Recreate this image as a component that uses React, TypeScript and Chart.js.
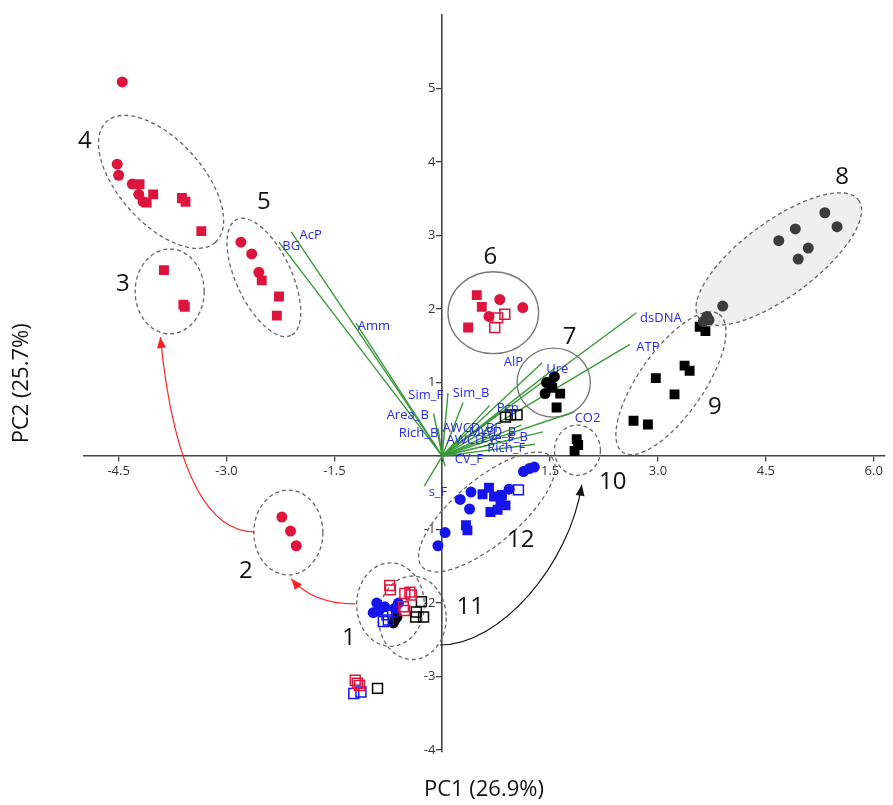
import React, { useEffect, useRef } from 'react';
import { Chart, registerables } from 'chart.js';

Chart.register(...registerables);

// ---------- axis ticks ----------
const X_TICKS = [-4.5, -3.0, -1.5, 0, 1.5, 3.0, 4.5, 6.0];
const Y_TICKS = [-4, -3, -2, -1, 0, 1, 2, 3, 4, 5];
const X_TITLE = 'PC1 (26.9%)';
const Y_TITLE = 'PC2 (25.7%)';

// ---------- sample scores (PC1, PC2) ----------
const redCircles: [number, number][] = [
  [-4.45, 5.09], [-4.52, 3.97], [-4.50, 3.82], [-4.31, 3.70], [-4.22, 3.56], [-4.16, 3.46],
  [-2.80, 2.91], [-2.65, 2.75], [-2.55, 2.50],
  [0.80, 2.13], [1.12, 2.02], [0.65, 1.90],
  [-2.23, -0.83], [-2.11, -1.02], [-2.03, -1.22],
];
const redSquares: [number, number][] = [
  [-4.21, 3.70], [-4.02, 3.56], [-4.11, 3.45], [-3.62, 3.51], [-3.57, 3.46], [-3.35, 3.06],
  [-3.87, 2.53], [-3.60, 2.06], [-3.58, 2.03],
  [-2.51, 2.39], [-2.27, 2.17], [-2.30, 1.91],
  [0.48, 2.19], [0.55, 2.03], [0.36, 1.75],
];
const redOpenSquares: [number, number][] = [
  [0.87, 1.93], [0.77, 1.88], [0.73, 1.75],
  [-0.73, -1.76], [-0.72, -1.82], [-0.52, -1.87], [-0.45, -1.85], [-0.43, -1.89], [-0.54, -2.05], [-0.52, -2.10],
  [-1.21, -3.05], [-1.18, -3.09], [-1.15, -3.12],
];
const blueCircles: [number, number][] = [
  [1.13, -0.21], [1.21, -0.17], [1.28, -0.15], [0.93, -0.45], [0.40, -0.49], [0.25, -0.59], [0.38, -0.72], [0.04, -1.04], [-0.06, -1.22],
  [-0.91, -2.00], [-0.96, -2.13], [-0.88, -2.10], [-0.80, -2.05], [-0.61, -2.00], [-0.66, -2.07],
];
const blueSquares: [number, number][] = [
  [0.65, -0.43], [0.56, -0.52], [0.72, -0.55], [0.83, -0.53], [0.81, -0.64], [0.88, -0.67], [0.67, -0.76], [0.77, -0.73], [0.33, -0.94], [0.35, -1.01],
];
const blueOpenSquares: [number, number][] = [
  [1.06, -0.46],
  [-0.77, -2.16], [-0.82, -2.25], [-0.75, -2.23], [-0.69, -2.12],
  [-1.23, -3.23], [-1.13, -3.21],
];
const blackCircles: [number, number][] = [
  [1.56, 1.08], [1.45, 1.00], [1.43, 0.85], [1.51, 0.97],
  [-0.66, -2.23], [-0.68, -2.27], [-0.63, -2.19],
];
const blackSquares: [number, number][] = [
  [1.64, 0.85], [1.59, 0.66], [1.53, 0.93],
  [1.87, 0.23], [1.89, 0.15], [1.84, 0.07],
  [2.97, 1.06], [3.37, 1.23], [3.44, 1.16], [3.23, 0.84], [2.66, 0.48], [2.86, 0.43], [3.58, 1.76], [3.66, 1.70],
];
const blackOpenSquares: [number, number][] = [
  [0.88, 0.53], [0.95, 0.56], [1.04, 0.56],
  [-0.29, -1.98], [-0.36, -2.12], [-0.26, -2.19], [-0.37, -2.19],
  [-0.90, -3.16],
];
const grayCircles: [number, number][] = [
  [4.68, 2.93], [4.91, 3.09], [5.32, 3.31], [5.49, 3.12], [5.09, 2.83], [4.95, 2.68],
  [3.90, 2.04], [3.68, 1.90], [3.63, 1.83], [3.71, 1.85],
];

// ---------- variable loadings ----------
const VEC_NAMES = ['BG', 'AcP', 'Amm', 'Sim_F', 'Sim_B', 'Area_B', 'Rich_B', 's_F', 'CV_F', 'AlP', 'Ure', 'dsDNA', 'ATP', 'Pcp', 'CO2', 'AWCD_BF', 'AWCD_F', 'MWD_B', 'Eve_F', 's_B', 'Rich_F'];
const VEC_X = [-2.27, -2.10, -1.20, 0.08, 0.29, -0.12, -0.06, -0.25, 0.04, 1.39, 1.57, 2.70, 2.61, 0.81, 1.83, 0.66, 0.74, 1.10, 0.95, 1.40, 1.29];
const VEC_Y = [2.91, 3.05, 1.81, 0.86, 0.73, 0.58, 0.38, -0.41, -0.14, 1.27, 1.20, 1.95, 1.52, 0.60, 0.60, 0.69, 0.33, 0.42, 0.22, 0.33, 0.16];
const VEC_LABEL_X = [-2.10, -1.83, -0.95, -0.23, 0.40, -0.48, -0.33, -0.06, 0.37, 0.99, 1.60, 3.04, 2.86, 0.91, 2.02, 0.41, 0.41, 0.70, 0.77, 1.05, 0.89];
const VEC_LABEL_Y = [2.86, 3.01, 1.76, 0.83, 0.86, 0.56, 0.31, -0.49, -0.05, 1.27, 1.18, 1.88, 1.48, 0.65, 0.52, 0.38, 0.22, 0.33, 0.245, 0.26, 0.11];

// ---------- group annotations ----------
const GROUP_NAMES = ['1', '2', '3', '4', '5', '6', '7', '8', '9', '10', '11', '12'];
const GROUP_LABEL_X = [-1.30, -2.73, -4.44, -4.97, -2.48, 0.67, 1.77, 5.56, 3.79, 2.37, 0.39, 1.09];
const GROUP_LABEL_Y = [-2.48, -1.57, 2.34, 4.28, 3.45, 2.71, 1.62, 3.80, 0.67, -0.36, -2.05, -1.14];
// ellipse centre, semi-axes (PC units) and rotation (degrees)
const ELL_CX = [-0.72, -2.14, -3.79, -3.91, -2.48, 0.71, 1.55, 4.68, 3.18, 1.88, -0.415, 0.62];
const ELL_CY = [-2.02, -1.04, 2.24, 3.73, 2.43, 1.95, 1.00, 2.68, 0.99, 0.08, -2.20, -0.76];
const ELL_RA = [0.47, 0.48, 0.48, 1.13, 0.89, 0.63, 0.51, 1.38, 1.17, 0.32, 0.47, 1.18];
const ELL_RB = [0.58, 0.59, 0.59, 0.58, 0.385, 0.57, 0.48, 0.52, 0.45, 0.35, 0.58, 0.45];
const ELL_ROT = [0, 0, 0, 48, 65, 0, 0, -36.5, -55, 0, 0, -40];
const ELL_SOLID = [false, false, false, false, false, true, true, false, false, false, false, false];
const ELL_FILLED = [false, false, false, false, false, false, false, true, false, false, false, false];

// ---------- trajectory arrows (bezier control points in PC units) ----------
const ARROW_COLORS = ['#ff2020', '#ff2020', '#111111'];
const ARROW_X = [[-1.21, -1.80, -2.10], [-2.61, -3.20, -3.72, -3.92], [-0.03, 0.81, 1.77, 1.94]];
const ARROW_Y = [[-2.01, -2.01, -1.67], [-1.03, -1.03, -0.35, 1.62], [-2.57, -2.57, -1.48, -0.39]];

const RED = 'rgb(221, 20, 60)';
const BLUE = 'rgb(20, 20, 235)';
const BLACK = '#000000';
const GRAY = '#3c3c3c';
const GREEN = '#3a9a3a';
const LABEL_BLUE = 'rgb(40, 40, 235)';
const FONT = "'Open Sans', 'Noto Sans', sans-serif";

const toPts = (arr: [number, number][]) => arr.map(([x, y]) => ({ x, y }));

const overlayPlugin = {
  id: 'overlay',
  beforeDatasetsDraw(chart: any) {
    const { ctx, scales } = chart;
    const xs = scales.x;
    const ys = scales.y;
    const kx = xs.getPixelForValue(1) - xs.getPixelForValue(0);
    ctx.save();
    // ellipses
    for (let i = 0; i < ELL_CX.length; i++) {
      ctx.beginPath();
      ctx.ellipse(
        xs.getPixelForValue(ELL_CX[i]),
        ys.getPixelForValue(ELL_CY[i]),
        ELL_RA[i] * kx,
        ELL_RB[i] * kx,
        (ELL_ROT[i] * Math.PI) / 180,
        0,
        Math.PI * 2
      );
      if (ELL_FILLED[i]) {
        ctx.fillStyle = '#efefef';
        ctx.fill();
      }
      ctx.setLineDash(ELL_SOLID[i] ? [] : [4, 3]);
      ctx.strokeStyle = ELL_SOLID[i] ? '#777777' : '#666666';
      ctx.lineWidth = 1.3;
      ctx.stroke();
    }
    ctx.setLineDash([]);
    // arrows
    for (let a = 0; a < ARROW_X.length; a++) {
      const px = ARROW_X[a].map((v) => xs.getPixelForValue(v));
      const py = ARROW_Y[a].map((v) => ys.getPixelForValue(v));
      const n = px.length;
      ctx.beginPath();
      ctx.moveTo(px[0], py[0]);
      if (n === 3) ctx.quadraticCurveTo(px[1], py[1], px[2], py[2]);
      else ctx.bezierCurveTo(px[1], py[1], px[2], py[2], px[3], py[3]);
      ctx.strokeStyle = ARROW_COLORS[a];
      ctx.lineWidth = 1.2;
      ctx.stroke();
      const ang = Math.atan2(py[n - 1] - py[n - 2], px[n - 1] - px[n - 2]);
      const tx = px[n - 1];
      const ty = py[n - 1];
      const L = 11;
      const W = 4.5;
      ctx.beginPath();
      ctx.moveTo(tx, ty);
      ctx.lineTo(tx - L * Math.cos(ang) + W * Math.sin(ang), ty - L * Math.sin(ang) - W * Math.cos(ang));
      ctx.lineTo(tx - L * Math.cos(ang) - W * Math.sin(ang), ty - L * Math.sin(ang) + W * Math.cos(ang));
      ctx.closePath();
      ctx.fillStyle = ARROW_COLORS[a];
      ctx.fill();
    }
    ctx.restore();
  },
  afterDatasetsDraw(chart: any) {
    const { ctx, scales } = chart;
    const xs = scales.x;
    const ys = scales.y;
    ctx.save();
    ctx.textAlign = 'center';
    ctx.textBaseline = 'middle';
    ctx.font = `13px ${FONT}`;
    ctx.fillStyle = LABEL_BLUE;
    for (let i = 0; i < VEC_NAMES.length; i++) {
      ctx.fillText(VEC_NAMES[i], xs.getPixelForValue(VEC_LABEL_X[i]), ys.getPixelForValue(VEC_LABEL_Y[i]));
    }
    ctx.font = `24px ${FONT}`;
    ctx.fillStyle = '#111111';
    for (let i = 0; i < GROUP_NAMES.length; i++) {
      ctx.fillText(GROUP_NAMES[i], xs.getPixelForValue(GROUP_LABEL_X[i]), ys.getPixelForValue(GROUP_LABEL_Y[i]));
    }
    ctx.restore();
  },
};

export default function App() {
  const ref = useRef<HTMLCanvasElement | null>(null);

  useEffect(() => {
    document.body.style.margin = '0';
    if (!ref.current) return;

    const pointSet = (label: string, arr: [number, number][], style: string, color: string, open: boolean, r: number) => ({
      label,
      data: toPts(arr),
      pointStyle: style,
      pointRadius: r,
      pointHoverRadius: r,
      backgroundColor: open ? 'rgba(255,255,255,0)' : color,
      borderColor: color,
      borderWidth: open ? 1.5 : 0,
      showLine: false,
      order: 1,
    });

    const datasets: any[] = [
      pointSet('gray circles', grayCircles, 'circle', GRAY, false, 5.5),
      pointSet('red circles', redCircles, 'circle', RED, false, 5.5),
      pointSet('red squares', redSquares, 'rect', RED, false, 7),
      pointSet('red open squares', redOpenSquares, 'rect', RED, true, 7),
      pointSet('blue circles', blueCircles, 'circle', BLUE, false, 5.5),
      pointSet('blue squares', blueSquares, 'rect', BLUE, false, 7),
      pointSet('blue open squares', blueOpenSquares, 'rect', BLUE, true, 7),
      pointSet('black circles', blackCircles, 'circle', BLACK, false, 5.5),
      pointSet('black squares', blackSquares, 'rect', BLACK, false, 7),
      pointSet('black open squares', blackOpenSquares, 'rect', BLACK, true, 7),
    ];
    VEC_NAMES.forEach((name, i) => {
      datasets.push({
        label: name,
        data: [{ x: 0, y: 0 }, { x: VEC_X[i], y: VEC_Y[i] }],
        showLine: true,
        pointRadius: 0,
        borderColor: GREEN,
        borderWidth: 1.4,
        order: 10,
      });
    });

    const tickFont = { family: FONT, size: 13 };
    const chart = new Chart(ref.current, {
      type: 'scatter',
      data: { datasets },
      plugins: [overlayPlugin],
      options: {
        responsive: true,
        maintainAspectRatio: false,
        animation: false,
        layout: { padding: { top: 15, left: 0, right: 0, bottom: 0 } },
        plugins: {
          legend: { display: false },
          tooltip: { enabled: false },
          title: {
            display: true,
            text: X_TITLE,
            position: 'bottom',
            fullSize: false,
            color: '#111',
            font: { family: FONT, size: 22, weight: 'normal' },
            padding: { top: 25, bottom: 2 },
          },
          subtitle: {
            display: true,
            text: Y_TITLE,
            position: 'left',
            fullSize: false,
            color: '#111',
            font: { family: FONT, size: 22, weight: 'normal' },
            padding: { top: 9, bottom: 48 },
          },
        },
        scales: {
          x: {
            type: 'linear',
            position: { y: 0 },
            min: -4.99,
            max: 6.15,
            afterBuildTicks: (s: any) => {
              s.ticks = X_TICKS.map((v) => ({ value: v }));
            },
            afterFit: (s: any) => {
              s.height = 0;
            },
            grid: { drawOnChartArea: false, drawTicks: true, tickLength: 5, color: '#444', lineWidth: 1.3 },
            border: { display: true, color: '#444', width: 1.6 },
            ticks: {
              autoSkip: false,
              maxRotation: 0,
              minRotation: 0,
              padding: 2,
              color: '#333',
              font: tickFont,
              callback: (v: any) => (Number(v) === 0 ? '' : Number(v).toFixed(1)),
            },
          },
          y: {
            type: 'linear',
            position: { x: 0 },
            min: -4.02,
            max: 6.0,
            afterBuildTicks: (s: any) => {
              s.ticks = Y_TICKS.map((v) => ({ value: v }));
            },
            afterFit: (s: any) => {
              s.width = 0;
            },
            grid: { drawOnChartArea: false, drawTicks: true, tickLength: 5, color: '#444', lineWidth: 1.3 },
            border: { display: true, color: '#444', width: 1.6 },
            ticks: {
              autoSkip: false,
              padding: 2,
              color: '#333',
              font: tickFont,
              callback: (v: any) => (Number(v) === 0 ? '' : String(v) + '\u00a0\u00a0'),
            },
          },
        },
      } as any,
    });
    return () => chart.destroy();
  }, []);

  return (
    <div style={{ width: 893, height: 805, position: 'relative', background: '#ffffff' }}>
      <canvas ref={ref} />
    </div>
  );
}
